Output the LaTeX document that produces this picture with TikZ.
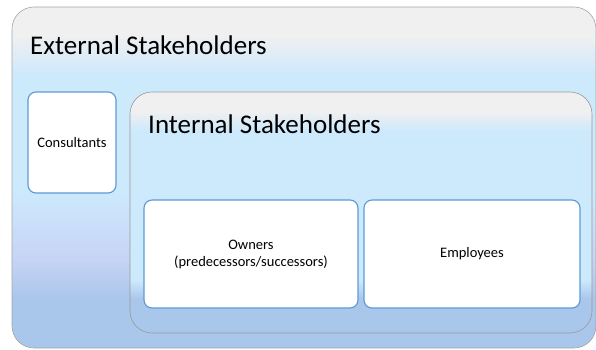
\documentclass[tikz,border=0pt]{standalone}
\usepackage{fontspec}
\setmainfont{Carlito}
\definecolor{topgray}{HTML}{F0F0F0}
\definecolor{skyblue}{HTML}{CDE9FC}
\definecolor{lavblue}{HTML}{C6D4F5}
\definecolor{deepblue}{HTML}{A9C6EB}
\definecolor{edgeblue}{HTML}{5B9BD5}
\pgfdeclareverticalshading{extshade}{100bp}{color(0bp)=(deepblue); color(25bp)=(deepblue); color(32bp)=(deepblue); color(38bp)=(lavblue); color(48bp)=(skyblue); color(65bp)=(skyblue); color(71bp)=(topgray); color(75bp)=(topgray); color(100bp)=(topgray)}
\pgfdeclareverticalshading{intshade}{100bp}{color(0bp)=(deepblue); color(25bp)=(deepblue); color(32bp)=(deepblue); color(36bp)=(skyblue); color(67bp)=(skyblue); color(71bp)=(topgray); color(75bp)=(topgray); color(100bp)=(topgray)}
\begin{document}
\begin{tikzpicture}[x=1pt,y=-1pt]
  \tikzset{panel/.style={rounded corners=22pt, draw=gray!70, line width=0.6pt, inner sep=0pt},
    card/.style={draw=edgeblue, fill=white, line width=1.1pt, rounded corners=8pt, inner sep=0pt, align=center, font=\fontsize{14.5}{17}\selectfont},
    title/.style={anchor=west, inner sep=0pt, font=\fontsize{27}{30}\selectfont}}
  \useasboundingbox (0,0) rectangle (596,350);
  \node[panel, shading=extshade, minimum width=584pt, minimum height=341pt] (ext) at (304,177.5) {};
  \node[title] (extlabel) at (30,45) {External Stakeholders};
  \node[card, minimum width=88pt, minimum height=101pt] (cons) at (72,142.5) {Consultants};
  \node[panel, shading=intshade, draw=gray!80, minimum width=462pt, minimum height=241pt] (int) at (361,212.5) {};
  \node[title] (intlabel) at (148,124) {Internal Stakeholders};
  \node[card, minimum width=214pt, minimum height=108pt] (owners) at (251,254) {Owners\\(predecessors/successors)};
  \node[card, minimum width=216pt, minimum height=108pt] (employees) at (472,254) {Employees};
\end{tikzpicture}
\end{document}
